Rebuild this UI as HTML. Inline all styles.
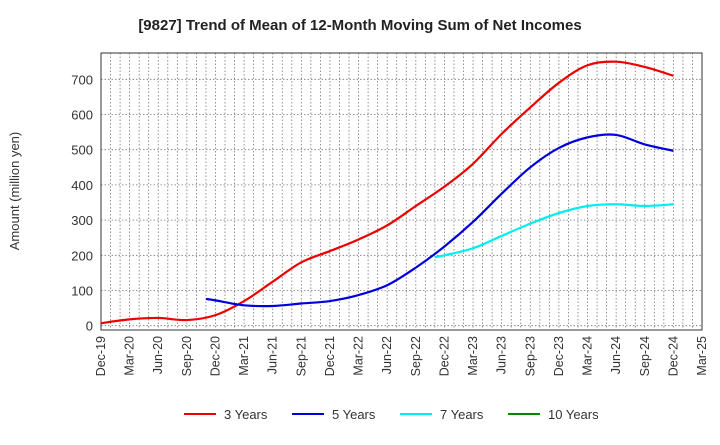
<!DOCTYPE html>
<html><head><meta charset="utf-8"><style>
body{margin:0;background:#fff;font-family:"Liberation Sans",sans-serif;}
</style></head><body>
<svg id="chart" width="720" height="440" xmlns="http://www.w3.org/2000/svg">
<text x="360" y="30" text-anchor="middle" font-size="15" font-weight="bold" fill="#222">[9827]  Trend of Mean of 12-Month Moving Sum of Net Incomes</text>
<text transform="translate(19,191) rotate(-90)" text-anchor="middle" font-size="13" fill="#333">Amount (million yen)</text>
<g id="grid"></g><g id="axes"></g><g id="series"></g><g id="legend"></g>
</svg>
<script>
const xLabels=["Dec-19","Mar-20","Jun-20","Sep-20","Dec-20","Mar-21","Jun-21","Sep-21","Dec-21","Mar-22","Jun-22","Sep-22","Dec-22","Mar-23","Jun-23","Sep-23","Dec-23","Mar-24","Jun-24","Sep-24","Dec-24","Mar-25"];
const yTicks=[0,100,200,300,400,500,600,700];
const m3=[0,3,6,9,12,15,18,21,24,27,30,33,36,39,42,45,48,51,54,57,60];
const v3=[7,18,22,16,30,70,125,180,212,245,285,340,395,460,545,620,690,740,750,735,710];
const m5=[11,12,15,18,21,24,27,30,33,36,39,42,45,48,51,54,57,60];
const v5=[76,72,58,56,63,70,87,115,165,225,295,375,450,505,535,542,515,497];
const m7=[35,36,39,42,45,48,51,54,57,60];
const v7=[195,200,220,255,290,320,340,345,340,345];
const m10=[];const v10=[];
const NS="http://www.w3.org/2000/svg";
const L=101,R=702,T=53,B=330;
const X=m=>L+m*(R-L)/63;
const Y=v=>325.7-v*(325.7-79.3)/700;
function mk(tag,attrs,parent){const e=document.createElementNS(NS,tag);for(const k in attrs)e.setAttribute(k,attrs[k]);parent.appendChild(e);return e;}
const grid=document.getElementById('grid'),axes=document.getElementById('axes'),ser=document.getElementById('series'),leg=document.getElementById('legend');
for(let m=1;m<63;m++){const g=mk('line',{x1:X(m),x2:X(m),y1:T,y2:B,stroke:'#777','stroke-width':0.8,'stroke-dasharray':'1.5,2'},grid);

}
yTicks.forEach(v=>{const g=mk('line',{x1:L,x2:R,y1:Y(v),y2:Y(v),stroke:'#777','stroke-width':0.8,'stroke-dasharray':'1.5,2'},grid);


const t=mk('text',{x:L-8,y:Y(v)+5,'text-anchor':'end','font-size':13,fill:'#333'},axes);t.textContent=v;

});
const fr=mk('rect',{x:L,y:T,width:R-L,height:B-T,fill:'none',stroke:'#333','stroke-width':1},axes);


xLabels.forEach((s,i)=>{const x=X(i*3);const t=mk('text',{transform:`translate(${x+4},${B+6}) rotate(-90)`,'text-anchor':'end','font-size':12.5,fill:'#333'},axes);t.textContent=s;

});
function path(ms,vs){if(!ms.length)return'';const p=ms.map((m,i)=>[X(m),Y(vs[i])]);let d=`M${p[0][0]},${p[0][1]}`;
for(let i=0;i<p.length-1;i++){const p0=p[i-1]||p[i],p1=p[i],p2=p[i+1],p3=p[i+2]||p2;
d+=` C${p1[0]+(p2[0]-p0[0])/6},${p1[1]+(p2[1]-p0[1])/6} ${p2[0]-(p3[0]-p1[0])/6},${p2[1]-(p3[1]-p1[1])/6} ${p2[0]},${p2[1]}`;}return d;}
const series=[["3 Years",m3,v3,"#ee0000"],["5 Years",m5,v5,"#0000dd"],["7 Years",m7,v7,"#00eeee"],["10 Years",m10,v10,"#008800"]];
series.forEach(([n,ms,vs,c],i)=>{if(ms.length){const p=mk('path',{d:path(ms,vs),fill:'none',stroke:c,'stroke-width':2.2},ser);

}
const lx=[184,292,400,508][i];
const g=mk('g',{},leg);


mk('line',{x1:lx,x2:lx+32,y1:414,y2:414,stroke:c,'stroke-width':2},g);
const t=mk('text',{x:lx+40,y:419,'font-size':13,fill:'#333'},g);t.textContent=n;});
</script>
</body></html>
